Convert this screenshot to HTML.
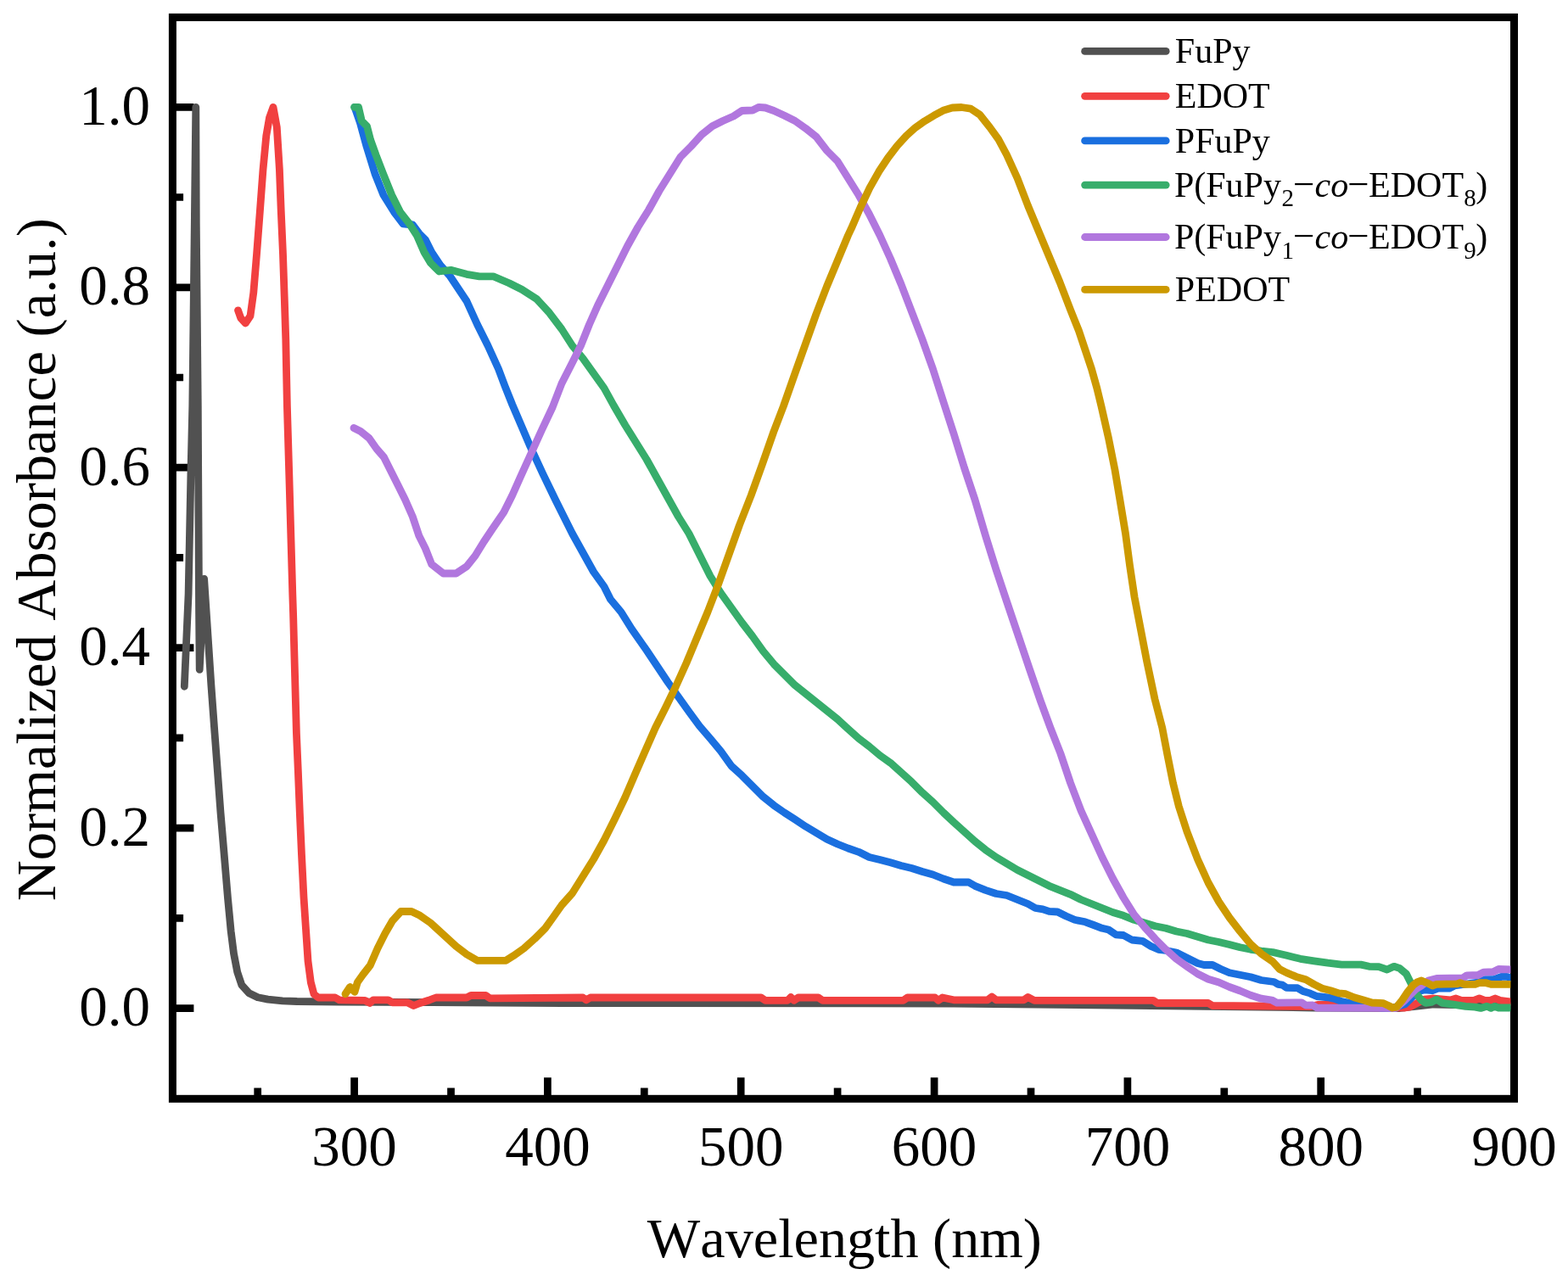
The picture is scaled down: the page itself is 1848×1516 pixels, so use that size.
<!DOCTYPE html>
<html lang="en"><head><meta charset="utf-8"><title>Normalized Absorbance vs Wavelength</title>
<style>html,body{margin:0;padding:0;background:#fff}body{width:1848px;height:1516px;overflow:hidden}svg{display:block}text{font-family:"Liberation Serif","DejaVu Serif",serif;fill:#000;font-kerning:none}.c{fill:none;stroke-width:8.8;stroke-linejoin:round;stroke-linecap:round}.t{font-size:67px}.a{font-size:66.2px}.b{font-size:66.5px}.l{font-size:42px}</style></head><body>
<svg width="1848" height="1516" viewBox="0 0 1848 1516">
<rect width="1848" height="1516" fill="#fff"/>
<path d="M206.9 1188.6H228.4M206.9 976.1H228.4M206.9 763.7H228.4M206.9 551.2H228.4M206.9 338.8H228.4M206.9 126.3H228.4M206.9 1082.4H216.1M206.9 869.9H216.1M206.9 657.4H216.1M206.9 445.0H216.1M206.9 232.5H216.1M417.6 1291.8V1270.3M645.4 1291.8V1270.3M873.2 1291.8V1270.3M1101.1 1291.8V1270.3M1328.9 1291.8V1270.3M1556.7 1291.8V1270.3M303.7 1291.8V1282.6M531.5 1291.8V1282.6M759.3 1291.8V1282.6M987.1 1291.8V1282.6M1215.0 1291.8V1282.6M1442.8 1291.8V1282.6M1670.6 1291.8V1282.6" stroke="#000" stroke-width="8.7" fill="none"/>
<rect x="203.4" y="20.4" width="1581.1" height="1274.9" fill="none" stroke="#000" stroke-width="9.0"/>
<defs><clipPath id="cp"><rect x="207.5" y="24.5" width="1572.9" height="1266.7"/></clipPath></defs>
<g clip-path="url(#cp)">
<polyline class="c" stroke="#515151" points="217.3,809.3 222.1,700.0 224.9,560.0 226.8,479.0 229.3,264.0 230.8,126.3 231.3,264.0 233.3,479.0 233.7,560.0 234.6,724.0 235.2,789.3 240.6,682.3 245.7,759.5 248.9,808.0 253.0,864.0 256.3,908.0 260.0,958.0 264.3,1008.6 268.6,1060.0 272.2,1098.0 275.5,1124.0 279.7,1145.8 284.9,1161.3 293.5,1170.7 303.8,1175.8 315.8,1178.1 332.9,1179.8 350.0,1180.5 400.0,1181.0 662.0,1182.5 1124.0,1183.0 1400.0,1186.0 1550.0,1188.0 1650.0,1188.5 1690.0,1184.0 1784.5,1186.0"/>
<polyline class="c" stroke="#F14040" points="280.5,365.8 283.8,375.0 289.3,381.0 295.0,372.5 298.8,345.0 302.5,300.0 306.3,250.0 310.0,200.0 313.8,160.0 317.5,138.8 322.0,126.3 326.3,150.0 329.4,200.0 331.3,250.0 333.5,300.0 335.2,350.0 336.8,400.0 337.8,450.0 338.4,479.0 340.8,560.0 344.8,700.0 345.6,724.0 349.4,864.0 351.3,908.0 353.3,958.0 355.5,1008.0 358.0,1058.0 360.5,1095.5 363.0,1133.0 366.3,1158.0 370.0,1171.8 375.0,1176.0 395.0,1176.0 400.0,1178.8 430.0,1179.3 435.8,1182.5 440.0,1178.8 457.5,1178.8 462.5,1181.8 480.0,1181.8 487.5,1185.5 495.0,1182.5 505.0,1179.3 513.8,1176.0 550.0,1176.0 555.0,1173.5 572.5,1173.5 577.5,1176.8 687.0,1176.0 690.8,1178.8 695.8,1176.0 897.0,1176.0 902.0,1179.3 928.3,1179.3 932.0,1175.5 935.8,1179.3 940.8,1176.0 964.5,1176.0 969.5,1179.3 1064.5,1179.3 1069.5,1176.0 1102.0,1176.0 1105.8,1179.3 1110.8,1176.0 1124.0,1178.8 1164.0,1178.8 1169.0,1175.0 1174.0,1178.8 1206.5,1178.8 1211.5,1175.5 1219.0,1179.3 1359.0,1179.3 1364.0,1182.5 1424.0,1182.5 1429.0,1185.5 1545.0,1186.5 1553.0,1184.5 1600.0,1184.5 1610.0,1187.5 1656.0,1188.0 1662.0,1187.0 1670.5,1182.3 1678.6,1178.2 1688.0,1177.0 1709.4,1179.0 1716.0,1177.0 1722.4,1179.4 1737.0,1179.4 1743.5,1177.0 1750.0,1179.4 1756.5,1179.4 1762.2,1177.0 1767.9,1179.4 1784.5,1181.5"/>
<polyline class="c" stroke="#1A6FDF" points="418.0,126.3 424.5,145.0 432.0,172.5 442.0,205.0 452.0,230.0 464.5,250.0 475.0,263.8 486.3,265.0 493.8,275.0 501.3,282.5 508.8,297.5 518.8,312.5 530.0,325.0 540.0,340.0 550.0,355.0 562.5,382.5 575.0,407.5 587.5,435.0 595.0,455.0 603.8,477.0 625.0,526.5 640.0,559.0 655.0,590.0 662.0,604.0 674.5,629.0 687.0,651.5 699.5,674.0 712.0,691.5 719.5,706.5 732.0,721.5 744.5,741.5 762.0,766.5 774.5,785.3 787.0,804.0 799.5,821.5 812.0,839.0 824.5,856.0 837.0,870.5 849.5,885.5 862.0,903.0 874.5,914.3 887.0,926.8 899.5,939.3 912.0,949.3 924.5,958.0 937.0,966.0 949.5,974.3 962.0,981.8 974.5,989.3 987.0,995.0 999.5,1000.0 1012.0,1004.3 1024.5,1010.5 1037.0,1013.5 1049.5,1016.8 1062.0,1020.5 1074.5,1023.5 1087.0,1027.5 1099.5,1031.0 1112.0,1036.0 1124.0,1040.0 1141.5,1040.0 1149.0,1044.3 1161.5,1049.3 1174.0,1053.5 1186.5,1055.5 1199.0,1060.5 1211.5,1065.5 1220.3,1070.5 1229.0,1071.8 1236.5,1074.3 1246.5,1075.0 1256.5,1080.0 1266.5,1084.3 1279.0,1086.8 1289.0,1090.5 1299.0,1094.3 1306.5,1096.0 1315.3,1101.8 1324.0,1102.5 1334.0,1108.0 1346.5,1109.3 1356.5,1115.5 1365.3,1119.3 1374.0,1120.5 1386.5,1123.0 1399.0,1129.3 1411.5,1135.5 1419.0,1137.5 1429.0,1137.5 1439.0,1142.5 1449.0,1146.8 1461.5,1149.3 1474.0,1151.8 1486.5,1155.5 1501.5,1157.5 1506.5,1160.4 1511.4,1161.2 1516.2,1164.4 1529.2,1164.7 1535.7,1168.5 1543.8,1170.9 1551.9,1174.5 1564.9,1175.8 1573.0,1177.4 1581.2,1180.6 1597.4,1183.9 1626.6,1188.0 1640.0,1188.5 1655.8,1183.9 1664.0,1175.8 1672.0,1168.5 1678.6,1166.9 1688.3,1167.7 1694.8,1165.2 1707.8,1165.2 1714.3,1162.0 1743.5,1157.9 1750.0,1154.7 1761.4,1154.4 1769.5,1151.4 1776.0,1151.4 1784.5,1154.0"/>
<polyline class="c" stroke="#37AD6B" points="417.5,126.3 422.5,126.3 426.3,142.5 432.5,148.8 436.7,165.0 443.0,182.5 451.7,205.0 461.7,230.0 471.7,250.0 482.5,263.8 491.3,277.5 500.0,297.5 507.5,310.0 517.5,320.0 531.3,318.3 550.0,323.3 565.0,325.8 581.3,325.8 600.0,333.8 615.0,341.3 632.5,352.5 647.5,368.8 662.0,388.0 674.5,407.5 687.0,422.5 699.5,440.0 712.0,457.5 723.3,478.0 737.0,501.5 749.5,521.5 762.0,541.5 774.5,564.0 787.0,586.5 799.5,609.0 812.0,629.0 824.5,654.0 837.0,679.0 849.5,699.0 862.0,716.5 874.5,734.0 887.0,750.3 899.5,767.8 912.0,782.8 924.5,795.3 937.0,807.8 949.5,817.8 962.0,827.8 974.5,837.8 987.0,847.8 997.0,857.0 1012.0,870.5 1024.5,880.0 1037.0,890.5 1049.5,899.3 1062.0,910.5 1074.5,921.8 1087.0,934.3 1099.5,945.5 1112.0,958.0 1124.0,969.3 1136.5,980.5 1149.0,991.8 1161.5,1001.8 1174.0,1010.5 1186.5,1018.0 1199.0,1025.5 1211.5,1031.8 1224.0,1038.0 1236.5,1044.3 1249.0,1049.3 1261.5,1054.3 1274.0,1060.5 1286.5,1065.5 1299.0,1070.5 1311.5,1075.5 1324.0,1079.3 1336.5,1084.3 1349.0,1088.0 1361.5,1091.8 1374.0,1094.3 1386.5,1098.0 1399.0,1100.5 1411.5,1104.3 1424.0,1108.0 1436.5,1110.5 1449.0,1113.5 1461.5,1116.8 1474.0,1119.3 1486.5,1121.0 1500.0,1122.5 1516.2,1126.3 1532.5,1130.3 1548.7,1132.8 1565.0,1135.2 1581.2,1137.1 1603.9,1137.1 1613.6,1139.3 1625.0,1139.7 1634.7,1143.0 1642.9,1139.3 1649.4,1141.4 1657.5,1148.2 1662.3,1157.9 1668.8,1170.9 1675.3,1179.0 1680.2,1182.3 1686.7,1181.5 1693.2,1178.2 1699.7,1182.3 1711.0,1183.9 1727.3,1186.3 1738.6,1187.1 1745.1,1188.4 1752.4,1186.3 1757.3,1188.4 1761.4,1186.3 1766.2,1188.0 1784.5,1188.0"/>
<polyline class="c" stroke="#B177DE" points="417.0,504.5 425.0,508.5 435.0,516.5 443.8,529.0 452.5,539.0 460.0,554.0 468.8,571.5 477.5,589.0 486.3,609.0 493.8,631.5 501.3,646.5 508.8,665.3 522.5,676.0 537.5,676.0 550.0,667.8 560.0,655.3 570.0,639.0 580.0,624.0 593.7,604.0 603.7,584.0 613.7,561.5 626.2,534.0 638.7,506.5 651.2,480.0 662.0,452.0 674.5,427.5 684.5,407.5 694.5,382.5 704.5,360.0 714.5,340.0 727.0,315.0 739.5,290.0 752.0,267.5 764.5,247.5 777.0,225.0 789.5,205.0 802.0,185.0 814.5,172.5 827.0,158.8 839.5,148.8 852.0,142.5 864.5,137.0 874.5,130.5 887.0,130.0 894.5,126.3 902.0,127.0 912.0,130.5 924.5,136.3 937.0,142.5 949.5,151.3 962.0,161.3 974.5,177.5 987.0,190.0 999.5,210.0 1012.0,230.0 1024.5,252.5 1037.0,277.5 1049.5,305.0 1062.0,335.0 1074.5,367.5 1087.0,400.0 1099.5,435.0 1112.0,474.0 1124.0,511.0 1136.5,551.5 1149.0,589.0 1161.5,631.5 1174.0,671.5 1186.5,709.0 1200.0,749.0 1213.5,789.0 1226.4,826.5 1238.0,858.0 1249.8,888.0 1261.6,923.0 1274.0,955.5 1286.5,983.0 1299.0,1010.5 1311.5,1035.5 1324.0,1058.0 1336.5,1078.0 1349.0,1093.0 1361.5,1106.8 1374.0,1119.3 1386.5,1130.5 1399.0,1139.3 1411.5,1148.0 1424.0,1154.3 1436.5,1158.0 1449.0,1163.5 1461.5,1168.0 1474.0,1173.3 1486.5,1177.2 1499.0,1179.0 1504.9,1182.1 1534.1,1181.8 1539.0,1185.2 1547.0,1185.0 1552.0,1188.0 1629.9,1188.4 1645.0,1188.5 1655.0,1180.0 1668.8,1166.0 1675.3,1162.0 1683.4,1156.0 1693.2,1153.4 1724.0,1153.0 1728.9,1149.8 1741.9,1149.5 1748.4,1146.2 1759.7,1145.7 1766.2,1142.5 1784.5,1143.0"/>
<polyline class="c" stroke="#CC9900" points="407.0,1171.8 412.5,1163.5 418.0,1169.3 421.3,1158.0 427.5,1149.3 436.3,1138.0 445.0,1118.0 453.8,1100.5 462.5,1085.5 472.5,1074.5 485.0,1074.5 495.0,1079.3 507.5,1088.0 522.5,1101.8 537.5,1115.5 550.0,1125.0 562.5,1132.3 596.3,1132.3 605.0,1126.8 617.5,1118.0 630.0,1106.8 642.5,1094.3 652.5,1080.5 662.0,1067.0 674.5,1053.0 687.0,1033.0 699.5,1013.0 712.0,990.5 724.5,965.5 736.5,940.5 748.3,913.0 760.3,885.5 772.4,858.0 784.5,834.0 796.6,809.0 809.0,781.5 821.5,751.5 834.0,721.5 846.5,689.0 859.0,654.0 871.5,619.0 885.2,584.0 898.7,546.5 911.8,509.0 923.3,479.0 937.0,440.0 949.5,405.0 962.0,370.0 974.5,337.5 987.0,307.5 999.5,277.5 1003.3,269.4 1014.1,244.5 1024.9,221.7 1035.8,202.3 1046.6,186.0 1057.4,171.9 1068.2,160.0 1079.0,150.3 1089.9,142.7 1100.7,136.2 1111.5,130.3 1122.3,127.0 1133.2,126.5 1144.0,128.1 1154.8,135.2 1166.5,150.0 1176.5,163.8 1186.5,182.5 1199.0,210.0 1211.5,242.5 1224.0,272.5 1236.5,302.5 1249.0,332.5 1261.5,365.0 1271.5,390.0 1279.0,412.5 1286.5,435.0 1292.8,457.5 1298.0,479.0 1306.5,516.5 1314.0,554.0 1320.3,591.5 1326.5,629.0 1331.5,666.5 1337.1,704.0 1344.3,741.5 1351.5,779.0 1361.0,824.0 1369.8,858.0 1376.0,890.5 1382.5,923.0 1389.3,950.5 1399.0,980.5 1411.5,1013.0 1424.0,1040.5 1436.5,1063.0 1449.0,1081.8 1461.5,1098.0 1474.0,1113.0 1486.5,1124.3 1500.0,1133.6 1508.1,1142.5 1516.2,1146.6 1527.6,1151.4 1539.0,1154.7 1548.7,1160.4 1558.4,1165.2 1568.2,1167.7 1577.9,1170.9 1586.0,1171.7 1595.8,1175.8 1607.1,1179.0 1616.9,1182.0 1629.9,1182.6 1636.4,1185.5 1641.2,1188.0 1646.1,1187.1 1652.6,1179.0 1659.1,1169.3 1665.6,1161.2 1670.5,1157.6 1675.3,1156.0 1681.8,1158.7 1688.3,1162.0 1693.2,1160.4 1717.5,1159.9 1720.8,1158.7 1725.6,1160.4 1738.6,1160.4 1743.5,1158.7 1751.6,1158.7 1757.3,1160.4 1784.5,1160.4"/>
</g>
<text class="t" x="177" y="1209.2" text-anchor="end">0.0</text>
<text class="t" x="177" y="996.7" text-anchor="end">0.2</text>
<text class="t" x="177" y="784.3" text-anchor="end">0.4</text>
<text class="t" x="177" y="571.8" text-anchor="end">0.6</text>
<text class="t" x="177" y="359.4" text-anchor="end">0.8</text>
<text class="t" x="177" y="146.9" text-anchor="end">1.0</text>
<text class="t" x="417.6" y="1374.2" text-anchor="middle">300</text>
<text class="t" x="645.4" y="1374.2" text-anchor="middle">400</text>
<text class="t" x="873.2" y="1374.2" text-anchor="middle">500</text>
<text class="t" x="1101.1" y="1374.2" text-anchor="middle">600</text>
<text class="t" x="1328.9" y="1374.2" text-anchor="middle">700</text>
<text class="t" x="1556.7" y="1374.2" text-anchor="middle">800</text>
<text class="t" x="1784.5" y="1374.2" text-anchor="middle">900</text>
<text class="a" x="995.3" y="1482.2" text-anchor="middle">Wavelength (nm)</text>
<text class="b" transform="translate(65.3 659.7) rotate(-90)" text-anchor="middle">Normalized Absorbance (a.u.)</text>
<line class="c" x1="1278.6" x2="1374.2" y1="60.4" y2="60.4" stroke="#515151" stroke-width="9"/>
<text class="l" x="1384.8" y="74.2">FuPy</text>
<line class="c" x1="1278.6" x2="1374.2" y1="113.3" y2="113.3" stroke="#F14040" stroke-width="9"/>
<text class="l" x="1384.8" y="127.1">EDOT</text>
<line class="c" x1="1278.6" x2="1374.2" y1="165.9" y2="165.9" stroke="#1A6FDF" stroke-width="9"/>
<text class="l" x="1384.8" y="179.7">PFuPy</text>
<line class="c" x1="1278.6" x2="1374.2" y1="218.1" y2="218.1" stroke="#37AD6B" stroke-width="9"/>
<text class="l"><tspan x="1383.9" y="231.7">P(FuPy</tspan><tspan x="1510.6" y="243.0" font-size="29">2</tspan><tspan x="1524" y="231.7" font-size="45">−</tspan><tspan x="1549.5" y="231.7" font-style="italic">co</tspan><tspan x="1588.2" y="231.7" font-size="45">−</tspan><tspan x="1613.1" y="231.7">EDOT</tspan><tspan x="1725.2" y="243.0" font-size="29">8</tspan><tspan x="1739.2" y="231.7">)</tspan></text>
<line class="c" x1="1278.6" x2="1374.2" y1="279.5" y2="279.5" stroke="#B177DE" stroke-width="9"/>
<text class="l"><tspan x="1383.9" y="293.4">P(FuPy</tspan><tspan x="1510.6" y="304.7" font-size="29">1</tspan><tspan x="1524" y="293.4" font-size="45">−</tspan><tspan x="1549.5" y="293.4" font-style="italic">co</tspan><tspan x="1588.2" y="293.4" font-size="45">−</tspan><tspan x="1613.1" y="293.4">EDOT</tspan><tspan x="1725.2" y="304.7" font-size="29">9</tspan><tspan x="1739.2" y="293.4">)</tspan></text>
<line class="c" x1="1278.6" x2="1374.2" y1="341.4" y2="341.4" stroke="#CC9900" stroke-width="9"/>
<text class="l" x="1384.8" y="355.2">PEDOT</text>
</svg></body></html>
